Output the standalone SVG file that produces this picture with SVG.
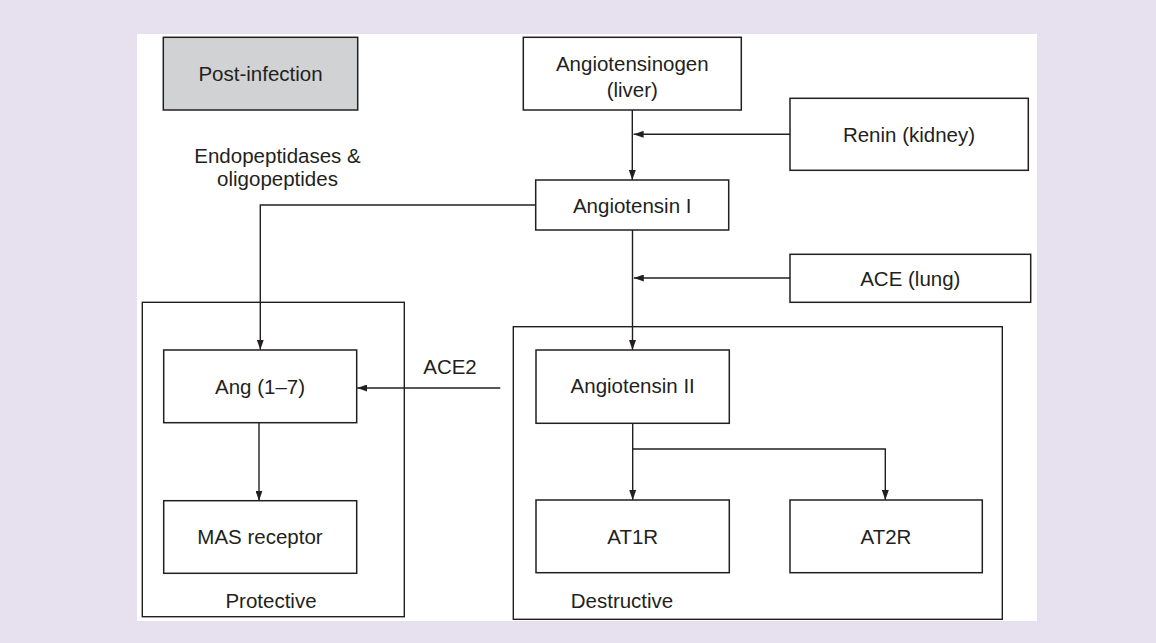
<svg xmlns="http://www.w3.org/2000/svg" width="1156" height="643" viewBox="0 0 1156 643">
  <style>
    .box { fill: #ffffff; stroke: #231f20; stroke-width: 1.5; }
    .gray { fill: #d1d2d4; }
    .frame { fill: none; stroke: #231f20; stroke-width: 1.4; }
    .lbl { font-family: "Liberation Sans", Arial, Helvetica, sans-serif; font-size: 20.5px; fill: #231f20; text-anchor: middle; }
    .con { fill: none; stroke: #231f20; stroke-width: 1.4; }
    .arr { marker-end: url(#ah); }
  </style>
  <defs>
    <marker id="ah" markerUnits="userSpaceOnUse" markerWidth="10" markerHeight="7" refX="10" refY="3.5" orient="auto">
      <path d="M0,0 L10,3.5 L0,7 z" fill="#231f20"/>
    </marker>
  </defs>
  <rect x="0" y="0" width="1156" height="643" fill="#e6e0ef"/>
  <rect x="137" y="34" width="900" height="587" fill="#ffffff"/>

  <g id="protective">
    <rect class="frame" x="142.3" y="302.3" width="262" height="314.4"/>
    <text class="lbl" x="271" y="608">Protective</text>
  </g>
  <g id="destructive">
    <rect class="frame" x="513.3" y="326.7" width="489" height="292.6"/>
    <text class="lbl" x="622" y="608">Destructive</text>
  </g>

  <g id="connectors">
    <line class="con arr" x1="632.3" y1="110" x2="632.3" y2="180"/>
    <line class="con arr" x1="790" y1="134.3" x2="633.6" y2="134.3"/>
    <polyline class="con arr" points="535.7,205 260.3,205 260.3,349.7"/>
    <line class="con arr" x1="632.5" y1="230" x2="632.5" y2="350"/>
    <line class="con arr" x1="790" y1="278" x2="633.8" y2="278"/>
    <line class="con arr" x1="500.3" y1="388" x2="357.2" y2="388"/>
    <line class="con arr" x1="259" y1="422.7" x2="259" y2="500.7"/>
    <line class="con arr" x1="632.7" y1="423.3" x2="632.7" y2="500"/>
    <polyline class="con arr" points="632.7,449 885.3,449 885.3,500"/>
  </g>

  <g id="post-infection">
    <rect class="box gray" x="163.3" y="37.3" width="194.4" height="72.7"/>
    <text class="lbl" x="260.5" y="81">Post-infection</text>
  </g>
  <g id="angiotensinogen">
    <rect class="box" x="523.3" y="37.3" width="218" height="72.7"/>
    <text class="lbl" x="632.3" y="71">Angiotensinogen</text>
    <text class="lbl" x="632.3" y="97">(liver)</text>
  </g>
  <g id="renin">
    <rect class="box" x="790" y="98.3" width="238.3" height="72"/>
    <text class="lbl" x="909" y="141.5">Renin (kidney)</text>
  </g>
  <g id="endopeptidases">
    <text class="lbl" x="277.5" y="163">Endopeptidases &amp;</text>
    <text class="lbl" x="277.5" y="186">oligopeptides</text>
  </g>
  <g id="angiotensin-i">
    <rect class="box" x="535.7" y="180" width="193" height="50"/>
    <text class="lbl" x="632.2" y="212.5">Angiotensin I</text>
  </g>
  <g id="ace">
    <rect class="box" x="790" y="254.3" width="240.7" height="48"/>
    <text class="lbl" x="910.3" y="285.5">ACE (lung)</text>
  </g>
  <g id="ace2">
    <text class="lbl" x="450" y="373.5">ACE2</text>
  </g>
  <g id="ang17">
    <rect class="box" x="163.7" y="350" width="193" height="72.7"/>
    <text class="lbl" x="260" y="393.5">Ang (1–7)</text>
  </g>
  <g id="mas">
    <rect class="box" x="163.7" y="500.7" width="193" height="72.6"/>
    <text class="lbl" x="260" y="544">MAS receptor</text>
  </g>
  <g id="angiotensin-ii">
    <rect class="box" x="536" y="350" width="193.3" height="73.3"/>
    <text class="lbl" x="632.7" y="393">Angiotensin II</text>
  </g>
  <g id="at1r">
    <rect class="box" x="536" y="500" width="193.3" height="72.7"/>
    <text class="lbl" x="632.7" y="543.5">AT1R</text>
  </g>
  <g id="at2r">
    <rect class="box" x="790" y="500" width="192.3" height="72.7"/>
    <text class="lbl" x="886" y="543.5">AT2R</text>
  </g>
</svg>
